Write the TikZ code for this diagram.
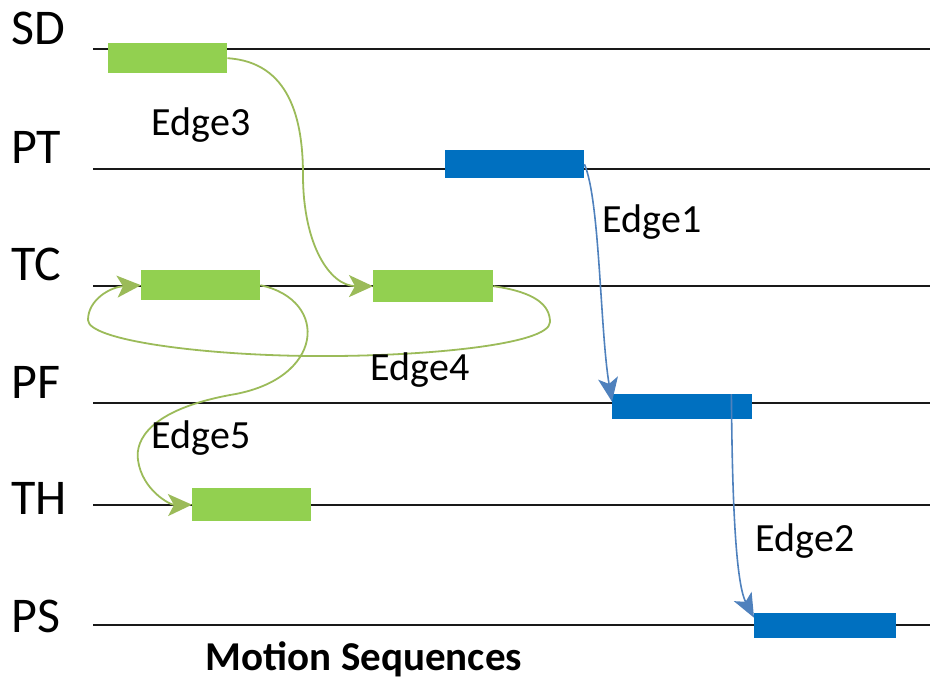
\documentclass[tikz,border=0pt]{standalone}
\usepackage{fontspec}
\setmainfont{Carlito}
\usetikzlibrary{arrows.meta}
\definecolor{gfill}{HTML}{92D050}
\definecolor{bfill}{HTML}{0070C0}
\definecolor{gedge}{HTML}{9BBB59}
\definecolor{bedge}{HTML}{4F81BD}
\tikzset{
  lane/.style={line width=2.2pt, black!90},
  gbar/.style={fill=gfill, draw=none, anchor=north west, inner sep=0pt},
  bbar/.style={fill=bfill, draw=none, anchor=north west, inner sep=0pt},
  gconn/.style={draw=gedge, line width=1.8pt, -{Stealth[length=24pt,width=22pt,inset=6pt]}},
  bconn/.style={draw=bedge, line width=1.6pt, -{Stealth[length=24pt,width=20pt,inset=6pt]}},
  lanelabel/.style={anchor=west, inner sep=0pt, font=\fontsize{50}{54}\selectfont},
  edgelabel/.style={inner sep=0pt, font=\fontsize{40}{44}\selectfont},
  titlelabel/.style={inner sep=0pt, font=\bfseries\fontsize{41}{44}\selectfont}
}
\begin{document}
\begin{tikzpicture}[x=1pt, y=-1pt]
\useasboundingbox (0,0) rectangle (930,681);
% lane lines
\foreach \y/\n in {49/sd,169/pt,286/tc,403/pf,505/th,625/ps}{
  \coordinate (\n L) at (93,\y);
  \coordinate (\n R) at (930,\y);
  \draw[lane] (\n L) -- (\n R);
}
% lane labels
\node[lanelabel] (lsd) at (11,28) {SD};
\node[lanelabel] (lpt) at (11,147) {PT};
\node[lanelabel] (ltc) at (11,264) {TC};
\node[lanelabel] (lpf) at (11,382) {PF};
\node[lanelabel] (lth) at (11,498) {TH};
\node[lanelabel] (lps) at (11,616) {PS};
% bars
\node[gbar, minimum width=119pt, minimum height=30pt] (sd1) at (108,43) {};
\node[bbar, minimum width=139pt, minimum height=28pt] (pt1) at (445,150) {};
\node[gbar, minimum width=119pt, minimum height=30pt] (tc1) at (141,270) {};
\node[gbar, minimum width=120pt, minimum height=32pt] (tc2) at (373,270) {};
\node[bbar, minimum width=140pt, minimum height=25pt] (pf1) at (612,394) {};
\node[gbar, minimum width=119pt, minimum height=33pt] (th1) at (192,488) {};
\node[bbar, minimum width=142pt, minimum height=25pt] (ps1) at (754,613) {};
% connectors
\draw[gconn] (sd1.east) .. controls (290,62) and (303,120) .. (303,175)
  .. controls (303,245) and (330,286) .. (tc2.west);
\draw[bconn] (pt1.east) .. controls (600,200) and (600,330) .. ([yshift=5pt]pf1.west);
\draw[bconn] ([xshift=-21pt]pf1.north east) .. controls (732,470) and (734,580) .. ([yshift=8pt]ps1.west);
\draw[gconn] (tc2.east) .. controls (535,292) and (550,305) .. (550,322)
  .. controls (550,345) and (420,357) .. (310,356)
  .. controls (200,355) and (88,340) .. (88,320)
  .. controls (88,300) and (110,287) .. (tc1.west);
\draw[gconn] (tc1.east) .. controls (330,300) and (325,380) .. (230,395)
  .. controls (150,410) and (135,440) .. (138,460)
  .. controls (142,490) and (170,505) .. (th1.west);
% edge labels
\node[edgelabel] (e3) at (201,125) {Edge3};
\node[edgelabel] (e1) at (652,222) {Edge1};
\node[edgelabel] (e4) at (420,370) {Edge4};
\node[edgelabel] (e5) at (201,438) {Edge5};
\node[edgelabel] (e2) at (805,541) {Edge2};
\node[titlelabel] (title) at (364,659) {Motion Sequences};
\end{tikzpicture}
\end{document}
